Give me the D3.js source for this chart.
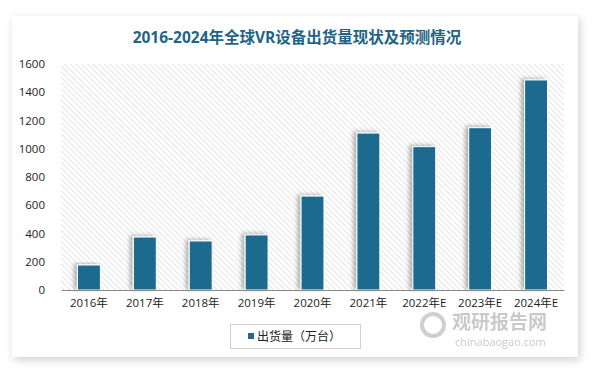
<!DOCTYPE html>
<html>
<head>
<meta charset="utf-8">
<script src="https://cdn.jsdelivr.net/npm/d3@7"></script>
<style>
  body { margin: 0; background: #fff; }
  text { font-family: "Open Sans", "Noto Sans CJK SC", sans-serif; }
</style>
</head>
<body>
<script>
// data
const years = ['2016年', '2017年', '2018年', '2019年', '2020年', '2021年', '2022年E', '2023年E', '2024年E'];
const shipments = [177, 375, 347, 390, 665, 1111, 1015, 1149, 1487];
const yTicks = [0, 200, 400, 600, 800, 1000, 1200, 1400, 1600];

const W = 594, H = 371;
const plot = { left: 61, right: 564, top: 64, bottom: 290 };

const svg = d3.select('body').append('svg')
    .attr('width', W)
    .attr('height', H);

const defs = svg.append('defs');

// card shadow
const cardShadow = defs.append('filter').attr('id', 'cardShadow')
    .attr('x', '-5%').attr('y', '-5%').attr('width', '110%').attr('height', '115%');
cardShadow.append('feDropShadow')
    .attr('dx', 2).attr('dy', 3).attr('stdDeviation', 4)
    .attr('flood-color', '#000').attr('flood-opacity', 0.18);

// bar shadow
const barShadow = defs.append('filter').attr('id', 'barShadow')
    .attr('x', '-40%').attr('y', '-10%').attr('width', '180%').attr('height', '120%');
barShadow.append('feDropShadow')
    .attr('dx', -3).attr('dy', -1).attr('stdDeviation', 2)
    .attr('flood-color', '#000').attr('flood-opacity', 0.3);

// hatch pattern for plot background (lines running top-left to bottom-right)
const hatch = defs.append('pattern').attr('id', 'hatch')
    .attr('width', 4).attr('height', 4)
    .attr('patternUnits', 'userSpaceOnUse')
    .attr('patternTransform', 'rotate(-45)');
hatch.append('rect').attr('width', 4).attr('height', 4).attr('fill', '#fff');
hatch.append('line')
    .attr('x1', 0).attr('y1', 0).attr('x2', 0).attr('y2', 4)
    .attr('stroke', '#d4d4d4').attr('stroke-width', 1.2);

// card
svg.append('rect')
    .attr('x', 12).attr('y', 16)
    .attr('width', 566).attr('height', 341)
    .attr('fill', '#fff')
    .attr('filter', 'url(#cardShadow)');

// title
svg.append('text')
    .attr('x', 297).attr('y', 43)
    .attr('text-anchor', 'middle')
    .attr('font-size', 15.5)
    .attr('font-weight', 'bold')
    .attr('fill', '#1f6485')
    .text('2016-2024年全球VR设备出货量现状及预测情况');

const x = d3.scaleBand()
    .domain(years)
    .range([plot.left, plot.right])
    .paddingInner(0.59)
    .paddingOuter(0.295);

const y = d3.scaleLinear()
    .domain([0, 1600])
    .range([plot.bottom, plot.top]);

// plot background
svg.append('rect')
    .attr('x', plot.left).attr('y', plot.top)
    .attr('width', plot.right - plot.left)
    .attr('height', plot.bottom - plot.top)
    .attr('fill', 'url(#hatch)');

// y axis (labels only)
const yAxis = d3.axisLeft(y)
    .tickValues(yTicks)
    .tickFormat(d3.format('d'))
    .tickSize(0)
    .tickPadding(16);
const yAxisGroup = svg.append('g')
    .attr('transform', `translate(${plot.left},0)`)
    .call(yAxis);
yAxisGroup.select('.domain').remove();
yAxisGroup.selectAll('text')
    .attr('font-size', 11.5)
    .attr('fill', '#222');

// bars
svg.append('g').selectAll('rect')
    .data(shipments)
    .join('rect')
    .attr('x', (d, i) => x(years[i]))
    .attr('y', d => y(d))
    .attr('width', x.bandwidth())
    .attr('height', d => y(0) - y(d))
    .attr('fill', '#1f6a8e')
    .attr('stroke', '#fff')
    .attr('stroke-width', 1)
    .attr('filter', 'url(#barShadow)');

// x axis
const xAxis = d3.axisBottom(x).tickSize(0).tickPadding(9);
const xAxisGroup = svg.append('g')
    .attr('transform', `translate(0,${plot.bottom})`)
    .call(xAxis);
xAxisGroup.select('.domain')
    .attr('stroke', '#888')
    .attr('stroke-width', 1);
xAxisGroup.selectAll('text')
    .attr('font-size', 11.5)
    .attr('fill', '#222');

// legend
svg.append('rect')
    .attr('x', 230.5).attr('y', 324.5)
    .attr('width', 130).attr('height', 24)
    .attr('fill', '#fff')
    .attr('stroke', '#d0d0d0');
svg.append('rect')
    .attr('x', 248).attr('y', 333)
    .attr('width', 6).attr('height', 6)
    .attr('fill', '#1f6a8e');
svg.append('text')
    .attr('x', 257).attr('y', 341)
    .attr('font-size', 12)
    .attr('fill', '#222')
    .text('出货量（万台）');

// watermark
const wm = svg.append('g').attr('opacity', 0.35);
wm.append('circle')
    .attr('cx', 433).attr('cy', 325).attr('r', 11)
    .attr('fill', 'none').attr('stroke', '#777').attr('stroke-width', 4);
wm.append('text')
    .attr('x', 452).attr('y', 329)
    .attr('font-size', 19).attr('font-weight', 'bold')
    .attr('fill', '#666')
    .text('观研报告网');
wm.append('text')
    .attr('x', 455).attr('y', 346)
    .attr('font-size', 11)
    .attr('fill', '#666')
    .text('chinabaogao.com');
</script>
</body>
</html>
